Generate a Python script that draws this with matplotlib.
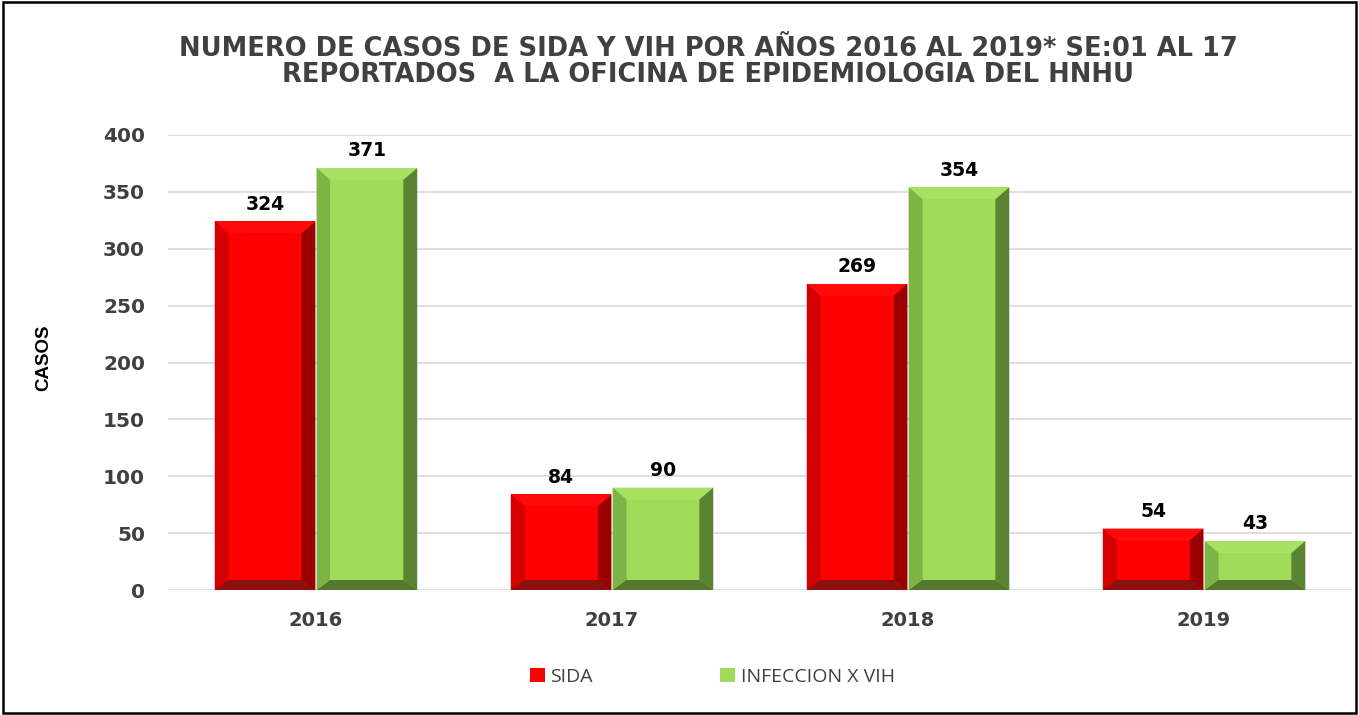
import matplotlib
matplotlib.use("Agg")
import matplotlib.pyplot as plt
from matplotlib.patches import Polygon, Patch, Rectangle

years = ["2016", "2017", "2018", "2019"]
sida = [324, 84, 269, 54]
vih = [371, 90, 354, 43]
series_names = ["SIDA", "INFECCION X VIH"]
yticks = [0, 50, 100, 150, 200, 250, 300, 350, 400]
title = ("NUMERO DE CASOS DE SIDA Y VIH POR AÑOS 2016 AL 2019* SE:01 AL 17\n"
         "REPORTADOS  A LA OFICINA DE EPIDEMIOLOGIA DEL HNHU")

red_pal = dict(face="#FF0000", top="#FF0A0A", left="#D40000", right="#9A0000", bottom="#8C1010")
grn_pal = dict(face="#A0DC5A", top="#A8E264", left="#7DB445", right="#5A8433", bottom="#55782F")

BOLD = "DejaVu Sans"

fig = plt.figure(figsize=(13.59, 7.15), dpi=100)
ax = fig.add_axes([0.1236, 0.1748, 0.8713, 0.6364])
ax.set_xlim(-0.5, 3.5)
ax.set_ylim(0, 400)

W = 0.34
GAP = 0.004
BX = 0.047
BT = 10.5
BB = 9.0


def bevel_bar(x0, h, pal):
    x1 = x0 + W
    bt = min(BT, h / 4)
    bb = min(BB, h / 4)
    o = [(x0, 0), (x1, 0), (x1, h), (x0, h)]
    i = [(x0 + BX, bb), (x1 - BX, bb), (x1 - BX, h - bt), (x0 + BX, h - bt)]
    ax.add_patch(Polygon(o, closed=True, fc=pal["face"], ec="none", zorder=3))
    ax.add_patch(Polygon([o[3], o[2], i[2], i[3]], closed=True, fc=pal["top"], ec="none", zorder=3))
    ax.add_patch(Polygon([o[0], o[3], i[3], i[0]], closed=True, fc=pal["left"], ec="none", zorder=3))
    ax.add_patch(Polygon([o[1], o[2], i[2], i[1]], closed=True, fc=pal["right"], ec="none", zorder=3))
    ax.add_patch(Polygon([o[0], o[1], i[1], i[0]], closed=True, fc=pal["bottom"], ec="none", zorder=3))
    ax.add_patch(Polygon(i, closed=True, fc=pal["face"], ec="none", zorder=3))
    ax.annotate(str(h), (x0 + W / 2, h), xytext=(0, 5.5), textcoords="offset points",
                ha="center", va="bottom", fontsize=13.5, fontweight="bold",
                family=BOLD, color="black", zorder=5)


for k, (a, b) in enumerate(zip(sida, vih)):
    bevel_bar(k - W - GAP / 2, a, red_pal)
    bevel_bar(k + GAP / 2, b, grn_pal)

ax.set_yticks(yticks)
ax.set_xticks(range(len(years)))
ax.set_xticklabels(years)
ax.grid(axis="y", color="#D9D9D9", linewidth=1.2, zorder=0)
ax.set_axisbelow(True)
for s in ax.spines.values():
    s.set_visible(False)
ax.tick_params(axis="both", length=0, labelcolor="#404040")
ax.tick_params(axis="y", pad=16.5, labelsize=14.5)
ax.tick_params(axis="x", pad=15, labelsize=14)
for lab in ax.get_xticklabels() + ax.get_yticklabels():
    lab.set_fontweight("bold")
    lab.set_family(BOLD)

fig.text(0.032, 0.499, "CASOS", rotation=90, ha="center", va="center",
         fontsize=13.5, fontweight="bold", family="Liberation Sans", color="black")

fig.text(0.521, 0.913, title, ha="center", va="center", fontsize=18.5,
         fontweight="bold", family=BOLD, color="#404040", linespacing=1.02)

handles = [Patch(fc=red_pal["face"], ec="none"),
           Patch(fc=grn_pal["face"], ec="none")]
fig.legend(handles, series_names, loc="center left", bbox_to_anchor=(530 / 1359, 38 / 715), ncol=2,
           frameon=False, handlelength=0.75, handleheight=0.7, handletextpad=0.3,
           borderpad=0, borderaxespad=0,
           columnspacing=6.55, prop=dict(family="Open Sans", size=14), labelcolor="#404040")

fig.patches.append(Rectangle((0.002, 0.003), 0.996, 0.994, transform=fig.transFigure,
                             fill=False, ec="black", lw=1.8))

fig.savefig("out.png", dpi=100)
